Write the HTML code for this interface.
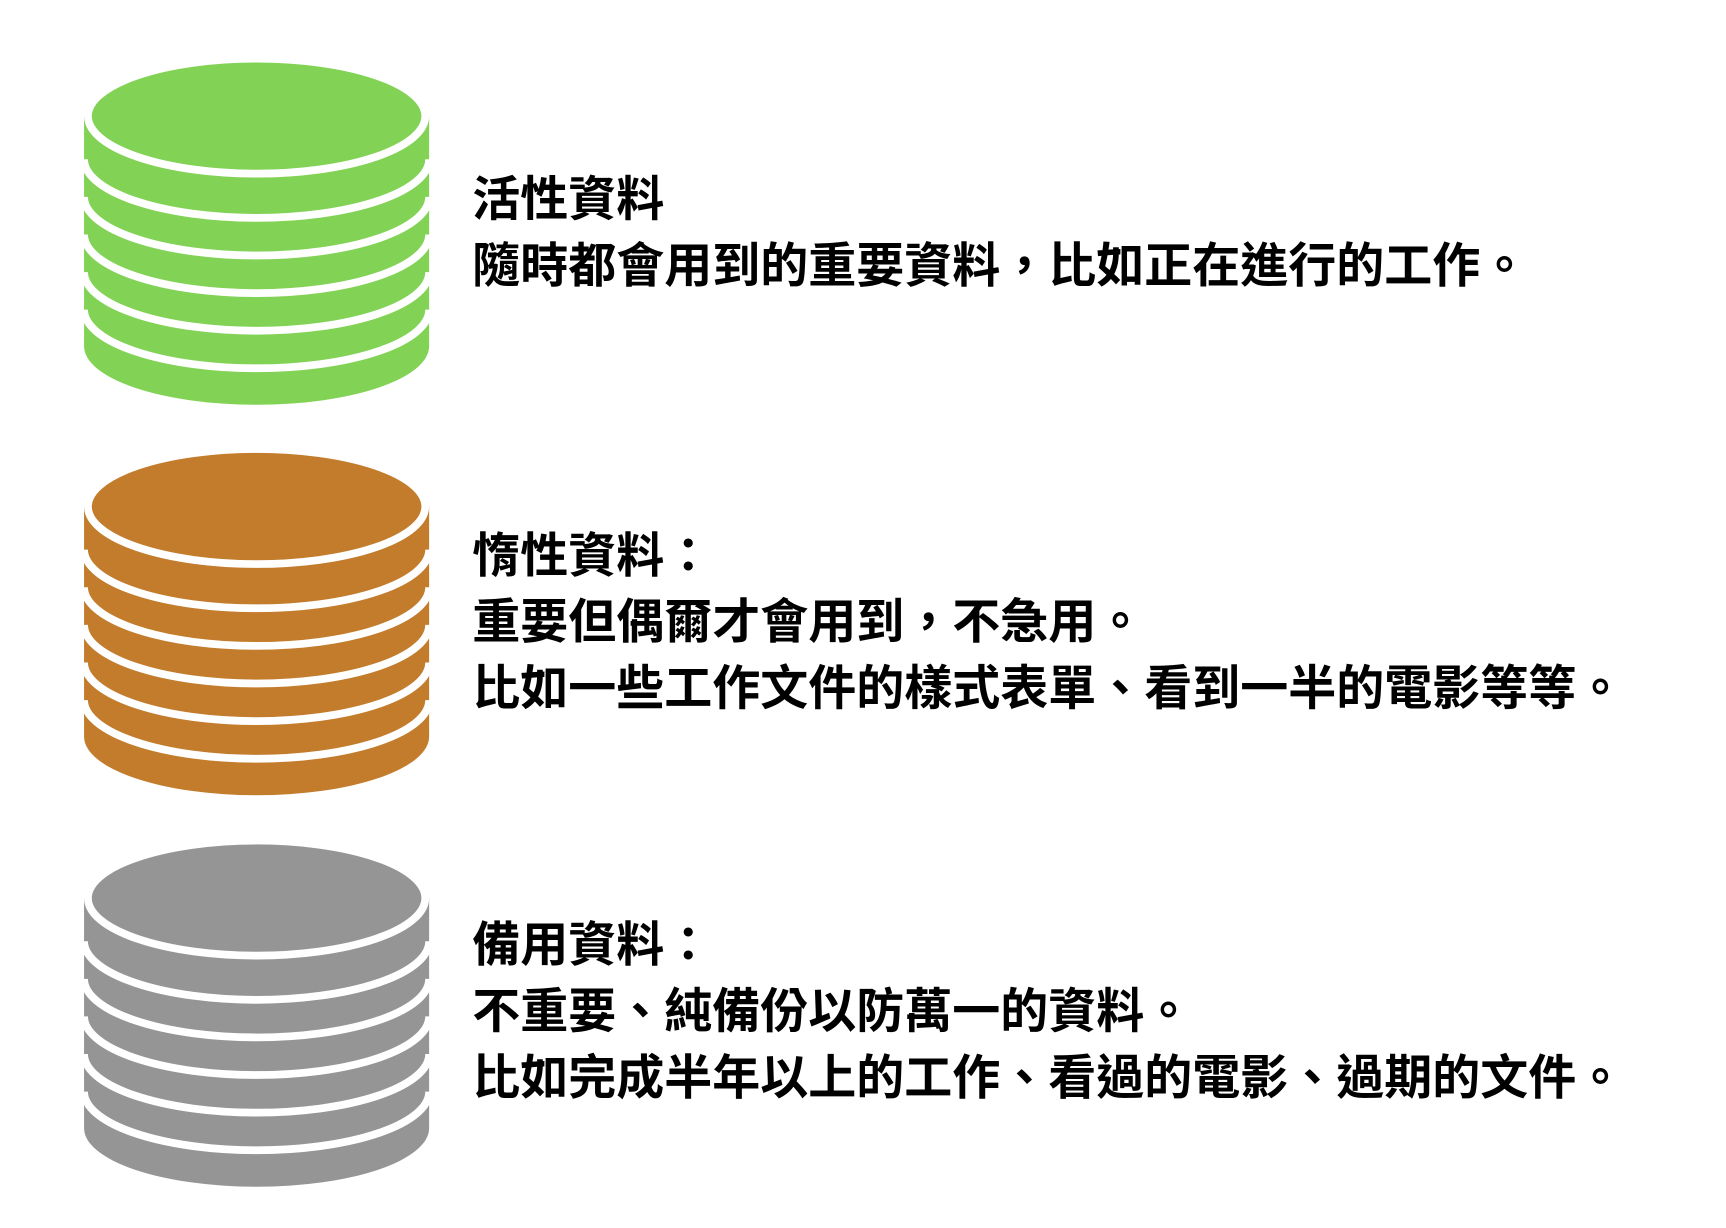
<!DOCTYPE html>
<html><head><meta charset="utf-8"><style>
html,body{margin:0;padding:0;background:#fff;}
svg{display:block;}
text{font-family:"Liberation Sans","Noto Sans CJK TC",sans-serif;font-weight:bold;font-size:43.4px;fill:#000;}
</style></head><body>
<svg width="1726" height="1228" viewBox="0 0 1560.6 1110.3" preserveAspectRatio="none" xmlns="http://www.w3.org/2000/svg">
<defs>
<g id="cyl">
  <path d="M76 105 L76 313 A156 53 0 0 0 388 313 L388 105 Z"/>
  <g fill="none" stroke="#fff" stroke-width="7">
    <path d="M76 144 A156 53 0 0 0 388 144"/>
    <path d="M76 178 A156 53 0 0 0 388 178"/>
    <path d="M76 212 A156 53 0 0 0 388 212"/>
    <path d="M76 246 A156 53 0 0 0 388 246"/>
    <path d="M76 280 A156 53 0 0 0 388 280"/>
  </g>
  <ellipse cx="232" cy="105" rx="152.5" ry="52" stroke="#fff" stroke-width="7"/>
</g>
</defs>
<use href="#cyl" fill="#82d355"/>
<use href="#cyl" fill="#c27c2c" transform="translate(0,353)"/>
<use href="#cyl" fill="#959595" transform="translate(0,707)"/>

<g dominant-baseline="central">
<text x="427" y="181">活性資料</text>
<text x="427" y="241">隨時都會用到的重要資料，比如正在進行的工作。</text>
<text x="427" y="503">惰性資料：</text>
<text x="427" y="563">重要但偶爾才會用到，不急用。</text>
<text x="427" y="623">比如一些工作文件的樣式表單、看到一半的電影等等。</text>
<text x="427" y="855">備用資料：</text>
<text x="427" y="915">不重要、純備份以防萬一的資料。</text>
<text x="427" y="975">比如完成半年以上的工作、看過的電影、過期的文件。</text>
</g>
</svg>
</body></html>
